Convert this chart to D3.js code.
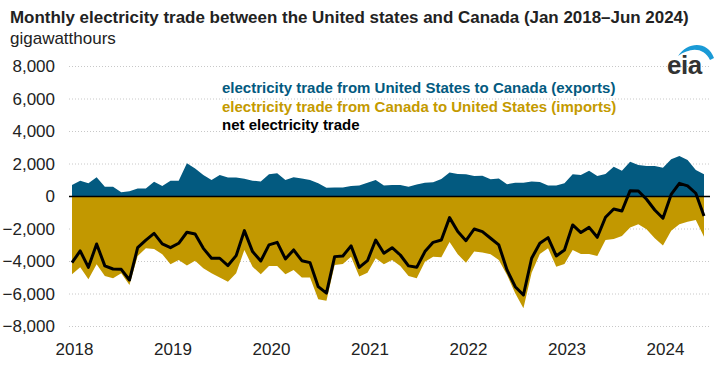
<!DOCTYPE html>
<html>
<head>
<meta charset="utf-8">
<script src="https://cdn.jsdelivr.net/npm/d3@7"></script>
<style>
  html, body { margin: 0; padding: 0; background: #ffffff; }
  svg { display: block; font-family: "Liberation Sans", Arial, sans-serif; }
</style>
</head>
<body>
<svg id="chart" width="726" height="373"></svg>
<script>
// ---- data (gigawatthours, monthly Jan 2018 – Jun 2024) ----
const yearLabels = ["2018", "2019", "2020", "2021", "2022", "2023", "2024"];
const yTicks = [-8000, -6000, -4000, -2000, 0, 2000, 4000, 6000, 8000];

const exportsGWh = [
  710, 970, 810, 1180, 600, 600, 260, 330, 500, 500, 910, 650,
  970, 970, 2040, 1730, 1320, 1010, 1320, 1170, 1170, 1090, 970, 930,
  1370, 1430, 1010, 1180, 1110, 1010, 810, 540, 560, 560, 650, 670,
  850, 1010, 670, 710, 710, 600, 740, 850, 870, 1080, 1470, 1390,
  1370, 1260, 1280, 1060, 1110, 750, 850, 850, 930, 890, 670, 670,
  810, 1370, 1330, 1590, 1260, 1390, 1830, 1590, 2140, 1940, 1880, 1880,
  1770, 2290, 2490, 2240, 1630, 1370
];

const importsGWh = [
  -4790, -4360, -5090, -4170, -4890, -5030, -4720, -5440, -3660, -3190, -3230, -3560,
  -4170, -3900, -4250, -3960, -4420, -4720, -4990, -5240, -4720, -3290, -4320, -4790,
  -4270, -4270, -4790, -4520, -4990, -4990, -6320, -6410, -4210, -4150, -3700, -4930,
  -4690, -3800, -4170, -3900, -4270, -4890, -5030, -4010, -3700, -3740, -2800, -3560,
  -4070, -3390, -3450, -3560, -3900, -4830, -5950, -6880, -4690, -3540, -3190, -4320,
  -4150, -3290, -3540, -3540, -3660, -2680, -2610, -2430, -1900, -1710, -2020, -2570,
  -3020, -2100, -1710, -1550, -1450, -2470
];

const netGWh = [
  -4070, -3350, -4360, -2920, -4270, -4460, -4480, -5140, -3150, -2680, -2270, -2920,
  -3150, -2880, -2200, -2310, -3190, -3800, -3800, -4250, -3640, -2100, -3390, -3970,
  -2980, -2820, -3840, -3290, -3950, -4070, -5550, -5950, -3700, -3660, -3040, -4360,
  -3950, -2680, -3490, -3150, -3600, -4270, -4360, -3390, -2820, -2680, -1300, -2160,
  -2720, -2000, -2160, -2570, -2980, -4520, -5550, -6060, -3800, -2880, -2530, -3660,
  -3290, -1750, -2220, -1900, -2510, -1280, -770, -890, 360, 340, -170, -830,
  -1340, 130, 810, 650, 200, -1200
];

const legendLabels = [
  "electricity trade from United States to Canada (exports)",
  "electricity trade from Canada to United States (imports)",
  "net electricity trade"
];

// ---- styles ----
const blue = "#035a80";
const gold = "#c29800";
const legendColors = [blue, "#c49a00", "#000000"];
const FONT = "Liberation Sans, Arial, sans-serif";

const svg = d3.select("#chart");

const x = d3.scaleLinear().domain([0, exportsGWh.length - 1]).range([72, 704]);
const y = d3.scaleLinear().domain([-8000, 8000]).range([326.5, 66.5]);

// title
svg.append("text").attr("x", 10).attr("y", 23)
  .attr("font-size", 16.95).attr("font-weight", "bold").attr("fill", "#222")
  .text("Monthly electricity trade between the United states and Canada (Jan 2018\u2013Jun 2024)");
svg.append("text").attr("x", 10).attr("y", 44)
  .attr("font-size", 17).attr("fill", "#222")
  .text("gigawatthours");

// grid
svg.append("g").selectAll("line").data(yTicks.filter(d => d !== 0)).join("line")
  .attr("x1", 69).attr("x2", 710)
  .attr("y1", d => y(d)).attr("y2", d => y(d))
  .attr("stroke", "#c8c8c8").attr("stroke-width", 1)
  .attr("stroke-dasharray", "1,2");

// y axis labels
const yAxis = d3.axisLeft(y).tickValues(yTicks).tickSize(0).tickPadding(0)
  .tickFormat(d3.format(","));
const yg = svg.append("g").attr("transform", "translate(55,0)").call(yAxis);
yg.select(".domain").remove();
yg.selectAll("text").attr("font-size", 17).attr("fill", "#222")
  .attr("font-family", FONT);

// x axis labels
const xAxis = d3.axisBottom(x).tickValues(yearLabels.map((d, i) => i * 12))
  .tickSize(0).tickPadding(0).tickFormat((d, i) => yearLabels[i]);
const xg = svg.append("g").attr("transform", "translate(2,343)").call(xAxis);
xg.select(".domain").remove();
xg.selectAll("text").attr("font-size", 17).attr("fill", "#222")
  .attr("font-family", FONT);

// areas
const areaExp = d3.area().x((d, i) => x(i)).y0(y(0)).y1(d => y(d));
svg.append("path").datum(exportsGWh).attr("d", areaExp).attr("fill", blue);
svg.append("path").datum(importsGWh).attr("d", areaExp).attr("fill", gold);

// zero line
svg.append("line").attr("x1", 69).attr("x2", 710)
  .attr("y1", y(0)).attr("y2", y(0))
  .attr("stroke", "#000").attr("stroke-width", 1.5);

// net line
const line = d3.line().x((d, i) => x(i)).y(d => y(d));
svg.append("path").datum(netGWh).attr("d", line)
  .attr("fill", "none").attr("stroke", "#000").attr("stroke-width", 3)
  .attr("stroke-linejoin", "round").attr("stroke-linecap", "butt");

// legend
svg.append("g").selectAll("text").data(legendLabels).join("text")
  .attr("x", 222).attr("y", (d, i) => 93 + i * 18.5)
  .attr("font-size", 15).attr("font-weight", "bold")
  .attr("fill", (d, i) => legendColors[i])
  .text(d => d);

// eia logo
const logo = svg.append("g").attr("transform", "translate(666,44)");
logo.append("path")
  .attr("d", "M12,12 C22,-3 42,-3 48,14 L44,16 C38,3 24,3 12,12 Z")
  .attr("fill", "#1a9ad6");
logo.append("text").attr("x", 1).attr("y", 30)
  .attr("font-size", 26).attr("font-weight", "bold").attr("fill", "#333")
  .attr("font-family", FONT)
  .attr("letter-spacing", -0.5)
  .text("eia");
</script>
</body>
</html>
